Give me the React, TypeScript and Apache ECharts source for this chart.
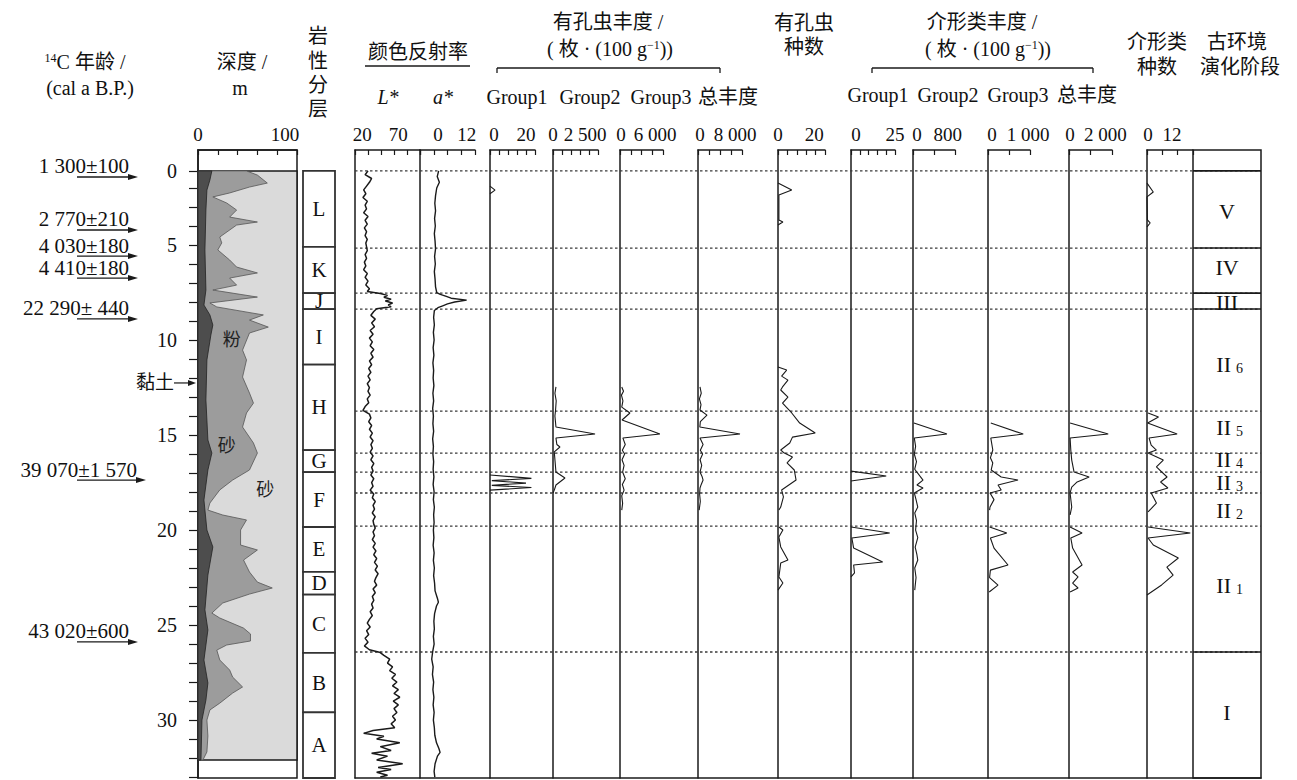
import React, { useEffect, useRef } from 'react';
import * as echarts from 'echarts';

const SERIF = "'Liberation Serif', 'Times New Roman', 'Noto Sans CJK SC', serif";
const INK = '#1a1a1a';

// ---------- depth axis ----------
const DEPTH_MAX = 33.05;
const CORE_TOP = 1.1;
const GRAIN_BOTTOM = 32.1;
const DEPTH_TICKS = [1.1, 2, 3, 4, 5, 6, 7, 8, 9, 10, 11, 12, 13, 14, 15, 16, 17, 18, 19, 20, 21, 22, 23, 24, 25, 26, 27, 28, 29, 30, 31, 32, 33];
const DEPTH_LABEL_VALUES = [1.1, 5, 10, 15, 20, 25, 30];
const DEPTH_LABEL_TEXTS = ['0', '5', '10', '15', '20', '25', '30'];

// ---------- 14C ages ----------
const AGE_TEXTS = ['1 300±100', '2 770±210', '4 030±180', '4 410±180', '22 290± 440', '39 070±1 570', '43 020±600'];
const AGE_DEPTHS = [1.42, 4.21, 5.58, 6.74, 8.89, 17.37, 25.89];
const CLAY_NOTE = '黏土';
const CLAY_NOTE_DEPTH = 12.26;

// ---------- grain size (cumulative %) ----------
const CLAY_PCT: number[][] = [[1.1, 14], [1.58, 12], [2.11, 9], [3.16, 8], [5.26, 7], [7.37, 8], [8.16, 6], [8.68, 12], [9.21, 15], [9.74, 13], [11.05, 9], [13.16, 8], [15.26, 10], [15.95, 14], [16.84, 10], [18.42, 6], [20.0, 9], [20.89, 15], [22.37, 10], [24.2, 7], [25.26, 10], [26.84, 6], [28.05, 10], [28.95, 8], [30.0, 4], [32.1, 3]];
const SILT_CUM_PCT: number[][] = [[1.1, 49], [1.32, 60], [1.74, 70], [1.95, 52], [2.26, 32], [2.47, 15], [2.79, 29], [3.16, 39], [3.53, 32], [3.79, 60], [3.95, 39], [4.58, 22], [4.89, 24], [5.26, 20], [5.79, 32], [6.16, 39], [6.47, 60], [6.74, 32], [7.11, 39], [7.37, 15], [7.74, 60], [8.05, 12], [8.26, 19], [8.68, 66], [8.95, 52], [9.32, 71], [9.63, 52], [10.53, 45], [11.05, 49], [11.95, 45], [12.79, 52], [13.32, 56], [13.84, 49], [14.58, 45], [15.42, 56], [15.95, 60], [16.84, 52], [17.37, 35], [17.89, 22], [18.58, 12], [18.95, 10], [19.21, 25], [19.47, 49], [20.0, 43], [20.79, 43], [21.05, 60], [21.58, 46], [22.21, 52], [22.74, 60], [23.05, 75], [23.37, 52], [23.84, 25], [24.37, 14], [24.63, 22], [25.16, 46], [25.47, 53], [25.84, 53], [26.05, 29], [26.32, 19], [26.84, 22], [27.37, 32], [27.74, 35], [28.26, 45], [28.58, 35], [29.11, 22], [29.47, 12], [30.0, 9], [30.84, 10], [31.68, 9], [32.1, 5]];
const GRAIN_TEXTS = ['粉', '砂', '砂'];
const GRAIN_TEXT_PCT = [34, 29, 68];
const GRAIN_TEXT_DEPTH = [10.0, 15.6, 17.9];

// ---------- lithology ----------
const LITH_NAMES = ['L', 'K', 'J', 'I', 'H', 'G', 'F', 'E', 'D', 'C', 'B', 'A'];
const LITH_TOPS = [1.1, 5.1, 7.53, 8.37, 11.3, 15.8, 16.95, 19.84, 22.2, 23.4, 26.47, 29.6];
const LITH_BASES = [5.1, 7.53, 8.37, 11.3, 15.8, 16.95, 19.84, 22.2, 23.4, 26.47, 29.6, 33.05];

// ---------- colour reflectance ----------
const LSTAR: number[][] = [[1.1, 28], [1.3, 24], [1.5, 33], [1.7, 30], [1.9, 26], [2.1, 22], [2.3, 25], [2.5, 21], [2.7, 27], [2.9, 24], [3.1, 26], [3.3, 22], [3.5, 28], [3.7, 24], [3.9, 27], [4.1, 23], [4.3, 26], [4.5, 24], [4.7, 27], [4.9, 25], [5.1, 26], [5.3, 27], [5.5, 24], [5.7, 26], [5.9, 23], [6.1, 25], [6.3, 22], [6.5, 27], [6.7, 24], [6.9, 28], [7.1, 25], [7.3, 30], [7.45, 27],
  [7.55, 45], [7.65, 55], [7.75, 50], [7.85, 60], [7.95, 52], [8.05, 62], [8.15, 56], [8.25, 60], [8.35, 40],
  [8.5, 36], [8.7, 32], [8.9, 38], [9.1, 33], [9.3, 37], [9.5, 31], [9.7, 35], [9.9, 30], [10.1, 34], [10.3, 31], [10.5, 36], [10.7, 32], [10.9, 35], [11.1, 30], [11.3, 33], [11.5, 29], [11.7, 32], [11.9, 28], [12.1, 31], [12.3, 27], [12.5, 30], [12.7, 28], [12.9, 31], [13.1, 27], [13.3, 29], [13.5, 24], [13.7, 21],
  [13.9, 30], [14.1, 32], [14.3, 29], [14.5, 33], [14.7, 30], [14.9, 34], [15.1, 31], [15.3, 35], [15.5, 32], [15.7, 34], [15.9, 31], [16.1, 35], [16.3, 32], [16.5, 36], [16.7, 33], [16.9, 35],
  [17.1, 32], [17.3, 36], [17.5, 33], [17.7, 35], [17.9, 31], [18.1, 36], [18.3, 34], [18.5, 38], [18.7, 35], [18.9, 37], [19.1, 34], [19.3, 38], [19.5, 35], [19.7, 36], [19.9, 38], [20.1, 35], [20.3, 37], [20.5, 34], [20.7, 38], [20.9, 35], [21.1, 39], [21.3, 36], [21.5, 40], [21.7, 37], [21.9, 41], [22.1, 38], [22.3, 42], [22.5, 39], [22.7, 37], [22.9, 40], [23.1, 35], [23.3, 38], [23.5, 34], [23.7, 36], [23.9, 33], [24.1, 35], [24.3, 31], [24.5, 34], [24.7, 30], [24.9, 27], [25.1, 31], [25.3, 26], [25.5, 29], [25.7, 24], [25.9, 28], [26.1, 23], [26.3, 30],
  [26.45, 45], [26.6, 50], [26.8, 58], [27.0, 55], [27.2, 62], [27.4, 58], [27.6, 66], [27.8, 61], [28.0, 68], [28.2, 62], [28.4, 70], [28.6, 64], [28.8, 72], [29.0, 63], [29.2, 70], [29.4, 64], [29.6, 68], [29.8, 62], [30.0, 66], [30.2, 60], [30.4, 65], [30.55, 35], [30.7, 22], [30.85, 50], [31.0, 40], [31.2, 72], [31.4, 45], [31.6, 60], [31.75, 33], [31.9, 55], [32.1, 40], [32.3, 76], [32.5, 42], [32.6, 60], [32.75, 40], [32.9, 55], [33.0, 45]];
const ASTAR: number[][] = [[1.1, 0.3], [1.4, -0.3], [1.7, 0.6], [2.0, -0.5], [2.4, -1.0], [2.8, -1.3], [3.2, -1.0], [3.6, -1.4], [4.0, -1.1], [4.4, -1.5], [4.8, -1.2], [5.2, -1.0], [5.6, -1.4], [6.0, -1.1], [6.4, -1.5], [6.8, -1.2], [7.2, -1.0], [7.5, -0.5], [7.6, 1.0], [7.7, 3.5], [7.8, 5.5], [7.9, 12], [8.0, 7], [8.1, 4], [8.2, 2], [8.3, 0], [8.45, -1.5], [8.8, -1.8], [9.2, -1.5], [9.6, -1.9], [10.0, -1.6], [10.4, -2.0], [10.8, -1.7], [11.2, -2.1], [11.6, -1.8], [12.0, -2.0], [12.4, -1.7], [12.8, -2.1], [13.2, -1.8], [13.6, -2.2], [14.0, -1.9], [14.4, -2.1], [14.8, -1.8], [15.2, -2.2], [15.6, -1.9], [16.0, -2.1], [16.4, -1.8], [16.8, -2.0], [17.2, -1.7], [17.6, -2.0], [18.0, -1.6], [18.4, -1.9], [18.8, -1.5], [19.2, -1.8], [19.6, -1.6], [20.0, -1.9], [20.4, -1.7], [20.8, -2.0], [21.2, -1.6], [21.6, -1.9], [22.0, -1.5], [22.4, -1.8], [22.8, -1.4], [23.2, -1.2], [23.6, -0.2], [23.8, 0.2], [24.0, -0.6], [24.4, -1.4], [24.8, -1.7], [25.2, -1.5], [25.6, -1.9], [26.0, -1.6], [26.4, -2.2], [26.8, -2.6], [27.2, -2.0], [27.6, -2.3], [28.0, -1.8], [28.4, -2.1], [28.8, -1.7], [29.2, -2.0], [29.6, -1.6], [30.0, -1.9], [30.4, -1.5], [30.8, -1.3], [31.2, -0.6], [31.5, 0.4], [31.7, 0.9], [31.9, -0.2], [32.3, -1.2], [32.7, -1.6], [33.0, -1.3]];

// ---------- foraminifera ----------
const FORAM_G1: number[][][] = [
  [[1.9, 0], [2.11, 2.8], [2.3, 0]],
  [[17.1, 0], [17.28, 23], [17.4, 1], [17.53, 20], [17.65, 1], [17.76, 23], [17.9, 0]],
];
const FORAM_G2: number[][][] = [
  [[12.47, 230], [12.8, 150], [13.2, 250], [13.68, 200], [14.0, 150], [14.58, 230], [14.95, 3270], [15.16, 230], [15.5, 300], [15.63, 540], [15.89, 100], [16.3, 150], [16.95, 230], [17.26, 930], [17.63, 230], [17.9, 100], [18.05, 0]],
];
const FORAM_G3: number[][][] = [
  [[12.47, 300], [12.7, 600], [12.9, 250], [13.2, 500], [13.53, 300], [13.84, 1700], [14.21, 350], [14.95, 6840], [15.16, 500], [15.5, 900], [15.8, 400], [16.0, 800], [16.3, 350], [16.6, 700], [16.95, 450], [17.3, 900], [17.6, 400], [17.9, 700], [18.2, 300], [18.6, 450], [18.95, 300]],
];
const FORAM_TOTAL: number[][][] = [
  [[12.47, 430], [12.8, 700], [13.1, 300], [13.4, 650], [13.68, 430], [13.95, 1940], [14.3, 500], [14.58, 400], [14.95, 9070], [15.16, 430], [15.5, 1100], [15.8, 500], [16.0, 1000], [16.3, 450], [16.6, 800], [16.95, 430], [17.2, 900], [17.37, 1100], [17.6, 700], [17.79, 430], [18.1, 350], [18.5, 500], [18.95, 250]],
];
const FORAM_SPECIES: number[][][] = [
  [[1.74, 0], [2.11, 7.6], [2.37, 0.5], [3.68, 0.5], [3.79, 2.7], [3.95, 0]],
  [[11.42, 0], [11.58, 4.8], [11.9, 2], [12.11, 5.5], [12.47, 2.5], [12.63, 1.5], [13.0, 5.5], [13.32, 2.5], [13.84, 7.6], [14.37, 12], [14.89, 20.6], [15.11, 8], [15.42, 6.5], [15.79, 1.5], [15.95, 3.5], [16.16, 8], [16.47, 5], [16.84, 9], [17.37, 10], [17.89, 2], [18.26, 3], [18.79, 1.5], [18.95, 0.5]],
  [[19.84, 0.5], [20.0, 2.7], [20.37, 0.5], [20.89, 1.5], [21.58, 5.5], [21.74, 1.5], [22.47, 0.5], [22.79, 2.7], [23.16, 0]],
];

// ---------- ostracods ----------
const OSTR_G1: number[][][] = [
  [[16.9, 0], [17.16, 20], [17.42, 0]],
  [[19.84, 0], [20.16, 22], [20.42, 0.5], [20.95, 1.5], [21.68, 18], [21.84, 1.5], [22.26, 2], [22.47, 0]],
];
const OSTR_G2: number[][][] = [
  [[14.37, 20], [14.95, 780], [15.16, 30], [15.6, 60], [16.0, 30], [16.4, 80], [16.8, 40], [17.37, 230], [17.63, 90], [17.79, 230], [18.05, 30], [18.4, 70], [18.79, 110], [19.1, 40], [19.5, 80], [20.0, 60], [20.4, 110], [20.9, 50], [21.3, 90], [21.58, 110], [22.0, 40], [22.5, 70], [23.16, 40]],
];
const OSTR_G3: number[][][] = [
  [[14.37, 70], [14.95, 880], [15.16, 70], [15.79, 120], [16.2, 60], [16.47, 120], [16.84, 80], [17.21, 330], [17.37, 750], [17.63, 250], [17.89, 330], [18.05, 50], [18.4, 150], [18.79, 50], [18.95, 40]],
  [[19.84, 40], [20.16, 470], [20.42, 60], [20.95, 150], [21.84, 500], [22.11, 60], [22.5, 40], [22.9, 250], [23.26, 30]],
];
const OSTR_TOTAL: number[][][] = [
  [[14.37, 60], [14.95, 2160], [15.16, 60], [15.8, 100], [16.32, 150], [16.95, 280], [17.21, 1110], [17.47, 450], [17.74, 150], [18.05, 60], [18.79, 150], [19.2, 60]],
  [[19.84, 60], [20.16, 720], [20.42, 100], [20.95, 200], [21.84, 720], [22.21, 200], [22.47, 500], [22.79, 200], [23.05, 500], [23.26, 60]],
];
const OSTR_SPECIES: number[][][] = [
  [[1.74, 0], [2.21, 3], [2.47, 0], [3.68, 0.2], [3.84, 1.5], [4.05, 0]],
  [[13.84, 0.5], [14.05, 5.5], [14.37, 0.3], [14.95, 14.4], [15.16, 1], [15.53, 2], [15.79, 4.5], [15.95, 0.5], [16.32, 7.8], [16.68, 4.5], [17.21, 9.6], [17.47, 6.5], [17.79, 10], [18.05, 2], [18.58, 4.5], [19.05, 0.5]],
  [[19.84, 0.5], [20.16, 20.7], [20.42, 0.5], [20.79, 3], [21.47, 15], [21.95, 9.5], [22.37, 12.5], [22.89, 7], [23.42, 0]],
];

// ---------- boundaries & stages ----------
const BOUNDARY_DEPTHS = [1.1, 5.16, 7.53, 8.37, 13.74, 15.95, 16.95, 18.05, 19.79, 26.42];
const STAGE_SOLID_DEPTHS = [1.1, 5.16, 7.53, 8.37, 26.42];
const STAGE_NAMES = ['V', 'IV', 'III', 'II', 'II', 'II', 'II', 'II', 'II', 'I'];
const STAGE_SUBS = ['', '', '', '6', '5', '4', '3', '2', '1', ''];
const STAGE_LABEL_DEPTHS = [3.26, 6.21, 8.0, 11.3, 14.6, 16.3, 17.5, 18.95, 22.9, 29.6];

// ---------- panel axes (tick labels) ----------
const LSTAR_LABELS = [20, 70];
const ASTAR_LABELS = [0, 12];
const FG1_LABELS = [0, 20];
const FG2_LABELS = [0, 2500];
const FG3_LABELS = [0, 6000];
const FT_LABELS = [0, 8000];
const FS_LABELS = [0, 20];
const OG1_LABELS = [0, 25];
const OG2_LABELS = [0, 800];
const OG3_LABELS = [0, 1000];
const OT_LABELS = [0, 2000];
const OS_LABELS = [0, 12];
const GRAIN_LABELS = [0, 100];

const TOP = 150;
const HEIGHT = 628;

function fmtNum(v: number): string {
  const s = String(v);
  if (Math.abs(v) >= 1000) return s.replace(/\B(?=(\d{3})+(?!\d))/g, ' ');
  return s;
}

type Panel = {
  left: number; right: number; min: number; max: number;
  labels: number[]; shifts: number[]; nTicks: number;
  segs: number[][][]; lw: number;
};

const PANELS: Panel[] = [
  { left: 355, right: 420, min: 10, max: 100, labels: LSTAR_LABELS, shifts: [0, 0], nTicks: 5, segs: [LSTAR], lw: 1.5 },
  { left: 420, right: 475, min: -7.5, max: 15.5, labels: ASTAR_LABELS, shifts: [0, 0], nTicks: 4, segs: [ASTAR], lw: 1.4 },
  { left: 490, right: 535, min: 0, max: 25, labels: FG1_LABELS, shifts: [4, 0], nTicks: 5, segs: FORAM_G1, lw: 1.1 },
  { left: 553, right: 598, min: 0, max: 3500, labels: FG2_LABELS, shifts: [0, 0], nTicks: 5, segs: FORAM_G2, lw: 1.1 },
  { left: 620, right: 663, min: 0, max: 7370, labels: FG3_LABELS, shifts: [1, 0], nTicks: 4, segs: FORAM_G3, lw: 1.1 },
  { left: 698, right: 742, min: 0, max: 9500, labels: FT_LABELS, shifts: [2, 0], nTicks: 4, segs: FORAM_TOTAL, lw: 1.1 },
  { left: 778, right: 825, min: 0, max: 26, labels: FS_LABELS, shifts: [0, 0], nTicks: 5, segs: FORAM_SPECIES, lw: 1.1 },
  { left: 851, right: 895, min: 0, max: 25, labels: OG1_LABELS, shifts: [5, 0], nTicks: 5, segs: OSTR_G1, lw: 1.1 },
  { left: 913, right: 955, min: 0, max: 965, labels: OG2_LABELS, shifts: [4, 0], nTicks: 2, segs: OSTR_G2, lw: 1.1 },
  { left: 988, right: 1030, min: 0, max: 1050, labels: OG3_LABELS, shifts: [4, 0], nTicks: 2, segs: OSTR_G3, lw: 1.1 },
  { left: 1069, right: 1112, min: 0, max: 2370, labels: OT_LABELS, shifts: [1, 0], nTicks: 2, segs: OSTR_TOTAL, lw: 1.1 },
  { left: 1147, right: 1193, min: 0, max: 22, labels: OS_LABELS, shifts: [1, 0], nTicks: 3, segs: OSTR_SPECIES, lw: 1.1 },
];

function evenTicks(min: number, max: number, n: number): number[] {
  const out: number[] = [];
  for (let i = 0; i <= n; i++) out.push(min + ((max - min) * i) / n);
  return out;
}

function topAxis(gridIndex: number, min: number, max: number, labels: number[], shifts: number[], nTicks: number) {
  const rich: any = {};
  labels.forEach((_, i) => {
    const s = shifts[i] || 0;
    rich['k' + i] = {
      fontFamily: SERIF, fontSize: 19, color: '#111',
      padding: s >= 0 ? [0, 0, 0, 2 * s] : [0, -2 * s, 0, 0],
    };
  });
  return {
    type: 'value', gridIndex, position: 'top', min, max,
    axisLine: { show: true, onZero: false, lineStyle: { color: INK, width: 1.5 } },
    axisTick: { show: true, inside: true, length: 5, customValues: evenTicks(min, max, nTicks), lineStyle: { color: INK, width: 1.2 } },
    axisLabel: {
      show: true, customValues: labels, margin: 6, fontFamily: SERIF, fontSize: 19, color: '#111',
      formatter: (v: number) => {
        let idx = labels.findIndex((l) => Math.abs(l - v) < 1e-6);
        if (idx < 0) idx = 0;
        return '{k' + idx + '|' + fmtNum(labels[idx]) + '}';
      },
      rich,
    },
    splitLine: { show: false },
  };
}

function depthAxis(gridIndex: number, showLine: boolean) {
  return {
    type: 'value', gridIndex, inverse: true, min: 0, max: DEPTH_MAX,
    axisLine: { show: showLine, onZero: false, lineStyle: { color: INK, width: 1.5 } },
    axisTick: { show: false }, axisLabel: { show: false }, splitLine: { show: false },
  };
}

function buildOption() {
  const grid: any[] = [];
  const xAxis: any[] = [];
  const yAxis: any[] = [];
  const series: any[] = [];

  // 0: ages annotation grid
  grid.push({ left: 0, top: TOP, width: 197, height: HEIGHT });
  xAxis.push({ type: 'value', gridIndex: 0, min: 0, max: 197, show: false });
  yAxis.push({ ...depthAxis(0, false), show: false });
  series.push({
    type: 'custom', xAxisIndex: 0, yAxisIndex: 0, silent: true,
    data: AGE_DEPTHS.map((d, i) => [i, d]),
    renderItem: (params: any, api: any) => {
      const i = params.dataIndex;
      const y = api.coord([0, AGE_DEPTHS[i]])[1];
      const xs = api.coord([77, 0])[0];
      const xe = api.coord([AGE_TEXTS[i].length > 11 ? 146 : 138, 0])[0];
      return {
        type: 'group', children: [
          { type: 'line', shape: { x1: xs, y1: y, x2: xe - 6, y2: y }, style: { stroke: INK, lineWidth: 1.3 } },
          { type: 'polygon', shape: { points: [[xe, y], [xe - 10, y - 3], [xe - 10, y + 3]] }, style: { fill: INK } },
          { type: 'text', x: xe - 9, y: y - 1, style: { text: AGE_TEXTS[i], fontFamily: SERIF, fontSize: 21, lineHeight: 19, fill: '#111', align: 'right', verticalAlign: 'bottom' } },
        ],
      };
    },
  });
  series.push({
    type: 'custom', xAxisIndex: 0, yAxisIndex: 0, silent: true,
    data: [[0, CLAY_NOTE_DEPTH]],
    renderItem: (_p: any, api: any) => {
      const y = api.coord([0, CLAY_NOTE_DEPTH])[1];
      const x0 = api.coord([174, 0])[0];
      const x1 = api.coord([196, 0])[0];
      return {
        type: 'group', children: [
          { type: 'text', x: x0, y, style: { text: CLAY_NOTE, fontFamily: SERIF, fontSize: 19, fill: '#111', align: 'right', verticalAlign: 'middle' } },
          { type: 'line', shape: { x1: x0, y1: y, x2: x1 - 5, y2: y }, style: { stroke: INK, lineWidth: 1.2 } },
          { type: 'polygon', shape: { points: [[x1, y], [x1 - 8, y - 3], [x1 - 8, y + 3]] }, style: { fill: INK } },
        ],
      };
    },
  });

  // 1: grain size
  grid.push({ left: 198, top: TOP, width: 99, height: HEIGHT, show: true, borderColor: INK, borderWidth: 1.5, backgroundColor: 'transparent' });
  xAxis.push(topAxis(1, 0, 100, GRAIN_LABELS, [0, -12], 5));
  yAxis.push({
    type: 'value', gridIndex: 1, inverse: true, min: 0, max: DEPTH_MAX,
    axisLine: { show: true, onZero: false, lineStyle: { color: INK, width: 1.5 } },
    axisTick: { show: true, inside: false, length: 9, customValues: DEPTH_TICKS, lineStyle: { color: INK, width: 1.2 } },
    axisLabel: {
      show: true, customValues: DEPTH_LABEL_VALUES, margin: 21, fontFamily: SERIF, fontSize: 20, color: '#111',
      formatter: (v: number) => {
        const idx = DEPTH_LABEL_VALUES.findIndex((l) => Math.abs(l - v) < 1e-6);
        return idx >= 0 ? DEPTH_LABEL_TEXTS[idx] : '';
      },
    },
    splitLine: { show: false },
  });
  series.push({
    type: 'custom', xAxisIndex: 1, yAxisIndex: 1, silent: true, data: [[0, 0]],
    renderItem: (_p: any, api: any) => {
      const c = (v: number, d: number) => api.coord([v, d]);
      const sand = [c(0, CORE_TOP), c(100, CORE_TOP), c(100, GRAIN_BOTTOM), c(0, GRAIN_BOTTOM)];
      const silt = SILT_CUM_PCT.map(([d, v]) => c(v, d));
      silt.push(c(0, SILT_CUM_PCT[SILT_CUM_PCT.length - 1][0]), c(0, SILT_CUM_PCT[0][0]));
      const clay = CLAY_PCT.map(([d, v]) => c(v, d));
      clay.push(c(0, CLAY_PCT[CLAY_PCT.length - 1][0]), c(0, CLAY_PCT[0][0]));
      const texts = GRAIN_TEXTS.map((t, i) => {
        const p = c(GRAIN_TEXT_PCT[i], GRAIN_TEXT_DEPTH[i]);
        return { type: 'text', x: p[0], y: p[1], style: { text: t, fontFamily: SERIF, fontSize: 18, fill: '#222', align: 'center', verticalAlign: 'middle' } };
      });
      return {
        type: 'group', children: [
          { type: 'polygon', shape: { points: sand }, style: { fill: '#dadada', stroke: INK, lineWidth: 1.5 } },
          { type: 'polygon', shape: { points: silt }, style: { fill: '#9c9c9c', stroke: '#555', lineWidth: 0.8 } },
          { type: 'polygon', shape: { points: clay }, style: { fill: '#4d4d4d', stroke: '#222', lineWidth: 0.8 } },
          ...texts,
        ],
      };
    },
  });

  // 2: lithology column
  grid.push({ left: 303, top: TOP, width: 32, height: HEIGHT });
  xAxis.push({ type: 'value', gridIndex: 2, min: 0, max: 1, show: false });
  yAxis.push({ ...depthAxis(2, false), show: false });
  series.push({
    type: 'custom', xAxisIndex: 2, yAxisIndex: 2, silent: true,
    data: LITH_NAMES.map((_, i) => [i, LITH_TOPS[i]]),
    renderItem: (params: any, api: any) => {
      const i = params.dataIndex;
      const p0 = api.coord([0, LITH_TOPS[i]]);
      const p1 = api.coord([1, LITH_BASES[i]]);
      return {
        type: 'group', children: [
          { type: 'rect', shape: { x: p0[0], y: p0[1], width: p1[0] - p0[0], height: p1[1] - p0[1] }, style: { fill: '#fff', stroke: '#333', lineWidth: 1.8 } },
          { type: 'text', x: (p0[0] + p1[0]) / 2, y: (p0[1] + p1[1]) / 2, style: { text: LITH_NAMES[i], fontFamily: SERIF, fontSize: 21, fill: '#111', align: 'center', verticalAlign: 'middle' } },
        ],
      };
    },
  });

  // 3: overlay for boundary lines
  grid.push({ left: 355, top: TOP, width: 906, height: HEIGHT });
  xAxis.push({
    type: 'value', gridIndex: 3, min: 0, max: 1, position: 'bottom',
    axisLine: { show: true, onZero: false, lineStyle: { color: INK, width: 1.5 } },
    axisTick: { show: false }, axisLabel: { show: false }, splitLine: { show: false },
  });
  yAxis.push({ ...depthAxis(3, false) });
  series.push({
    type: 'custom', xAxisIndex: 3, yAxisIndex: 3, silent: true,
    data: BOUNDARY_DEPTHS.map((d) => [0, d]),
    renderItem: (params: any, api: any) => {
      const d = BOUNDARY_DEPTHS[params.dataIndex];
      const a = api.coord([0, d]);
      const b = api.coord([1, d]);
      return { type: 'line', shape: { x1: a[0], y1: a[1], x2: b[0], y2: b[1] }, style: { stroke: '#3a3a3a', lineWidth: 1.3, lineDash: [2.5, 2.5] } };
    },
  });

  // panels
  PANELS.forEach((p) => {
    const gi = grid.length;
    grid.push({ left: p.left, top: TOP, width: p.right - p.left, height: HEIGHT });
    xAxis.push(topAxis(gi, p.min, p.max, p.labels, p.shifts, p.nTicks));
    yAxis.push(depthAxis(gi, true));
    p.segs.forEach((seg) => {
      series.push({
        type: 'line', xAxisIndex: gi, yAxisIndex: gi, silent: true,
        showSymbol: false, symbol: 'none',
        data: seg.map(([d, v]) => [v, d]),
        lineStyle: { color: INK, width: p.lw },
      });
    });
  });

  // stage column
  const sg = grid.length;
  grid.push({ left: 1193, top: TOP, width: 68, height: HEIGHT, show: true, borderColor: INK, borderWidth: 1.5, backgroundColor: 'transparent' });
  xAxis.push({ type: 'value', gridIndex: sg, min: 0, max: 1, show: false });
  yAxis.push({ ...depthAxis(sg, false), show: false });
  series.push({
    type: 'custom', xAxisIndex: sg, yAxisIndex: sg, silent: true,
    data: STAGE_SOLID_DEPTHS.map((d) => [0, d]),
    renderItem: (params: any, api: any) => {
      const d = STAGE_SOLID_DEPTHS[params.dataIndex];
      const a = api.coord([0, d]);
      const b = api.coord([1, d]);
      return { type: 'line', shape: { x1: a[0], y1: a[1], x2: b[0], y2: b[1] }, style: { stroke: INK, lineWidth: 1.6 } };
    },
  });
  series.push({
    type: 'custom', xAxisIndex: sg, yAxisIndex: sg, silent: true,
    data: STAGE_NAMES.map((_, i) => [0.5, STAGE_LABEL_DEPTHS[i]]),
    renderItem: (params: any, api: any) => {
      const i = params.dataIndex;
      const p = api.coord([0.5, STAGE_LABEL_DEPTHS[i]]);
      const sub = STAGE_SUBS[i];
      if (!sub) {
        return {
          type: 'text', x: p[0], y: p[1],
          style: { text: STAGE_NAMES[i], fontFamily: SERIF, fontSize: 22, fill: '#111', align: 'center', verticalAlign: 'middle' },
        };
      }
      return {
        type: 'group', children: [
          { type: 'text', x: p[0] + 4, y: p[1], style: { text: STAGE_NAMES[i], fontFamily: SERIF, fontSize: 22, fill: '#111', align: 'right', verticalAlign: 'middle' } },
          { type: 'text', x: p[0] + 9, y: p[1] + 11, style: { text: sub, fontFamily: SERIF, fontSize: 14, fill: '#111', align: 'left', verticalAlign: 'bottom' } },
        ],
      };
    },
  });

  const T = (x: number, y: number, text: string, extra: any = {}) => ({
    type: 'text', x, y, silent: true,
    style: { text, fontFamily: SERIF, fontSize: 20, fill: '#111', align: 'center', verticalAlign: 'middle', ...extra },
  });
  const supRich = {
    n: { fontFamily: SERIF, fontSize: 20, fill: '#111' },
    sup: { fontFamily: SERIF, fontSize: 12, fill: '#111', verticalAlign: 'top' },
  };
  const L = (x1: number, y1: number, x2: number, y2: number, w = 1.3) => ({
    type: 'line', silent: true, shape: { x1, y1, x2, y2 }, style: { stroke: INK, lineWidth: w },
  });

  const graphic: any[] = [
    T(85, 62, '{sup|14}{n|C 年龄 /}', { rich: supRich }),
    T(90, 88, '(cal a B.P.)'),
    T(242, 62, '深度 /'),
    T(240, 88, 'm'),
    T(318, 36, '岩'), T(318, 61, '性'), T(318, 85, '分'), T(318, 109, '层'),
    T(418, 52, '颜色反射率'),
    L(365, 66, 470, 66),
    T(388, 97, 'L*', { fontStyle: 'italic' }),
    T(443, 97, 'a*', { fontStyle: 'italic' }),
    T(608, 22, '有孔虫丰度 /'),
    T(610, 49, '{n|( 枚 · (100 g}{sup|−1}{n|))}', { rich: supRich }),
    L(497, 68, 720, 68), L(497, 68, 497, 73), L(720, 68, 720, 73),
    T(517, 97, 'Group1'), T(590, 97, 'Group2'), T(661, 97, 'Group3'), T(728, 97, '总丰度'),
    T(804, 23, '有孔虫'), T(804, 47, '种数'),
    T(982, 22, '介形类丰度 /'),
    T(988, 49, '{n|( 枚 · (100 g}{sup|−1}{n|))}', { rich: supRich }),
    L(872, 68, 1093, 68), L(872, 68, 872, 73), L(1093, 68, 1093, 73),
    T(878, 95, 'Group1'), T(948, 95, 'Group2'), T(1018, 95, 'Group3'), T(1087, 95, '总丰度'),
    T(1157, 42, '介形类'), T(1157, 67, '种数'),
    T(1237, 42, '古环境'), T(1240, 67, '演化阶段'),
  ];

  return {
    animation: false,
    backgroundColor: '#ffffff',
    textStyle: { fontFamily: SERIF },
    grid, xAxis, yAxis, series, graphic,
  };
}

export default function App() {
  const ref = useRef<HTMLDivElement>(null);
  useEffect(() => {
    document.body.style.margin = '0';
    if (!ref.current) return;
    const chart = echarts.init(ref.current, null, { renderer: 'svg' });
    chart.setOption(buildOption() as any);
    return () => chart.dispose();
  }, []);
  return <div ref={ref} style={{ width: 1297, height: 780 }} />;
}
